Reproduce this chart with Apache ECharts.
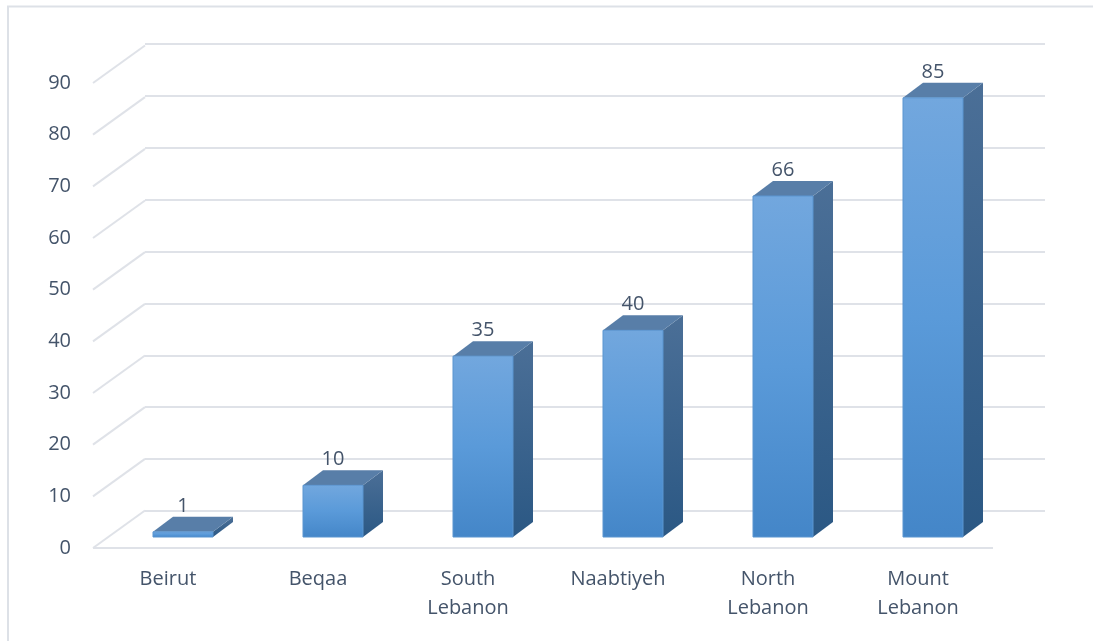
<!DOCTYPE html>
<html>
<head>
<meta charset="utf-8">
<script src="https://cdn.jsdelivr.net/npm/echarts@6/dist/echarts.min.js"></script>
<style>
  html, body { margin: 0; padding: 0; background: #ffffff; }
  #chart { width: 1093px; height: 641px; }
</style>
</head>
<body>
<div id="chart"></div>
<script>
var categories = ['Beirut', 'Beqaa', 'South\nLebanon', 'Naabtiyeh', 'North\nLebanon', 'Mount\nLebanon'];
var values = [1, 10, 35, 40, 66, 85];
var yTicks = [0, 10, 20, 30, 40, 50, 60, 70, 80, 90];

var FONT = '"Open Sans", "Liberation Sans", sans-serif';
var TEXT = '#44546a';
var GRID = '#dfe2e8';
var DEPTH_X = 52, DEPTH_Y = -37.5;      // floor depth (front plane -> back wall)
var BAR_OFF_X = 15, BAR_OFF_Y = -11;    // bar front face inside floor
var BAR_D_X = 20, BAR_D_Y = -15;        // bar depth
var BAR_HALF = 30;

var chart = echarts.init(document.getElementById('chart'), null, { renderer: 'canvas' });

var option = {
  backgroundColor: '#ffffff',
  animation: false,
  graphic: [{
    type: 'rect',
    shape: { x: 8, y: 6.5, width: 1200, height: 800 },
    style: { fill: 'none', stroke: '#dde1e7', lineWidth: 2 },
    silent: true, z: -10
  }],
  grid: [
    { left: 93, right: 100, top: 83, bottom: 93 },
    { left: 145, right: 48, top: 44, bottom: 130 }
  ],
  xAxis: [
    {
      type: 'category', gridIndex: 0, data: categories,
      axisLine: { show: false }, axisTick: { show: false },
      axisLabel: { color: TEXT, fontSize: 20, fontFamily: FONT, lineHeight: 29, margin: 17, interval: 0 }
    },
    { type: 'category', gridIndex: 1, data: categories, show: false }
  ],
  yAxis: [
    {
      type: 'value', gridIndex: 0, min: 0, max: 90, interval: 10,
      axisLine: { show: false }, axisTick: { show: false }, splitLine: { show: false },
      axisLabel: { color: TEXT, fontSize: 20, fontFamily: FONT, margin: 22 }
    },
    {
      type: 'value', gridIndex: 1, min: 0, max: 90, interval: 10,
      axisLine: { show: false }, axisTick: { show: false },
      axisLabel: { show: false },
      splitLine: { show: true, lineStyle: { color: GRID, width: 2 } }
    }
  ],
  series: [
    {
      type: 'custom', xAxisIndex: 0, yAxisIndex: 0, z: 1, silent: true,
      data: yTicks.map(function (t) { return [0, t]; }),
      encode: { x: 0, y: 1 },
      renderItem: function (params, api) {
        var cs = params.coordSys;
        var p = api.coord([0, api.value(1)]);
        var x0 = cs.x, y = p[1];
        var children = [{
          type: 'line',
          shape: { x1: x0, y1: y, x2: x0 + DEPTH_X, y2: y + DEPTH_Y },
          style: { stroke: GRID, lineWidth: 2 }
        }];
        if (api.value(1) === 0) {
          children.push({
            type: 'line',
            shape: { x1: x0, y1: y, x2: cs.x + cs.width, y2: y },
            style: { stroke: GRID, lineWidth: 2 }
          });
        }
        return { type: 'group', children: children };
      }
    },
    {
      type: 'custom', xAxisIndex: 0, yAxisIndex: 0, z: 5, silent: true,
      data: values.map(function (v, i) { return [i, v]; }),
      encode: { x: 0, y: 1 },
      renderItem: function (params, api) {
        var i = api.value(0), v = api.value(1);
        var p0 = api.coord([i, 0]);
        var p1 = api.coord([i, v]);
        var cx = p0[0] + BAR_OFF_X;
        var yb = p0[1] + BAR_OFF_Y;
        var yt = p1[1] + BAR_OFF_Y;
        var xl = cx - BAR_HALF, xr = cx + BAR_HALF;
        return {
          type: 'group',
          children: [
            {
              type: 'polygon',
              shape: { points: [[xr, yt], [xr + BAR_D_X, yt + BAR_D_Y], [xr + BAR_D_X, yb + BAR_D_Y], [xr, yb]] },
              style: {
                fill: new echarts.graphic.LinearGradient(0, 0, 0, 1, [
                  { offset: 0, color: '#4b6f97' }, { offset: 1, color: '#2b5884' }
                ])
              }
            },
            {
              type: 'polygon',
              shape: { points: [[xl, yt], [xr, yt], [xr + BAR_D_X, yt + BAR_D_Y], [xl + BAR_D_X, yt + BAR_D_Y]] },
              style: { fill: '#587ea8' }
            },
            {
              type: 'rect',
              shape: { x: xl, y: yt, width: xr - xl, height: yb - yt },
              style: {
                fill: new echarts.graphic.LinearGradient(0, 0, 0, 1, [
                  { offset: 0, color: '#72a7de' }, { offset: 0.5, color: '#5a9ad9' }, { offset: 1, color: '#4486c8' }
                ]),
                stroke: '#5b95d0', lineWidth: 1
              }
            },
            {
              type: 'text',
              x: cx, y: yt - 26,
              style: {
                text: String(v), fill: TEXT, fontSize: 20, fontFamily: FONT,
                align: 'center', verticalAlign: 'middle'
              }
            }
          ]
        };
      }
    }
  ]
};

chart.setOption(option);
</script>
</body>
</html>
